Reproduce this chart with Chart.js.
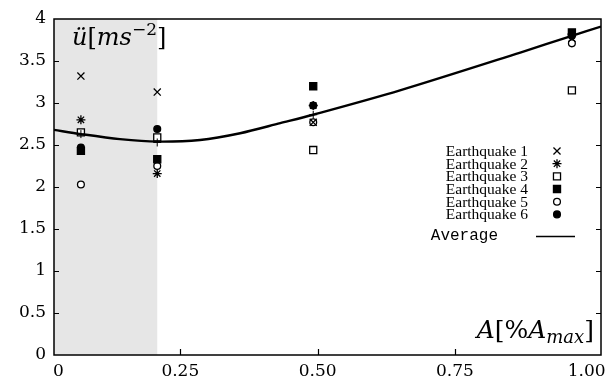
<!DOCTYPE html>
<html>
<head>
<meta charset="utf-8">
<script src="https://cdn.jsdelivr.net/npm/chart.js@4/dist/chart.umd.min.js"></script>
<style>
  body { margin: 0; background: #fff; }
  canvas { display: block; }
</style>
</head>
<body>
<canvas id="chart" width="609" height="379"></canvas>
<script>
// amplitude positions of the four test levels
const ampLevels = [0.069, 0.208, 0.492, 0.963];

// peak acceleration per earthquake, one value per amplitude level
const quake1 = [3.32, 3.13, 2.77, 3.77];
const quake2 = [2.80, 2.16, 2.97, 3.82];
const quake3 = [2.65, 2.59, 2.44, 3.15];
const quake4 = [2.43, 2.33, 3.20, 3.84];
const quake5 = [2.03, 2.25, 2.77, 3.71];
const quake6 = [2.47, 2.69, 2.97, 3.80];
const avgMarks = [2.63, 2.53, 2.86, 3.80];

// average curve
const avgLineX = [0.02, 0.069, 0.14, 0.208, 0.286, 0.359, 0.432, 0.492, 0.65, 0.869, 0.963, 1.016];
const avgLineY = [2.68, 2.63, 2.57, 2.54, 2.56, 2.64, 2.76, 2.86, 3.15, 3.60, 3.80, 3.91];

// axis ticks
const xTickValues = [0.028, 0.25, 0.5, 0.75, 0.99];
const xTickLabels = ['0', '0.25', '0.50', '0.75', '1.00'];
const yTicks = [0, 0.5, 1, 1.5, 2, 2.5, 3, 3.5, 4];

const bandEnd = 0.208; // shaded region ends at second level

const toPoints = (xs, ys) => xs.map((x, i) => ({ x: x, y: ys[i] }));

function quakeSet(label, ys, style, radius, fill) {
  return {
    label: label,
    data: toPoints(ampLevels, ys),
    showLine: false,
    pointStyle: style,
    pointRadius: radius,
    pointBorderWidth: 1.3,
    pointBorderColor: '#000',
    pointBackgroundColor: fill
  };
}

const datasets = [
  {
    label: 'Average',
    data: toPoints(avgLineX, avgLineY),
    showLine: true,
    borderColor: '#000',
    borderWidth: 2.4,
    tension: 0.3,
    pointRadius: 0
  },
  {
    label: 'avgMarks',
    data: toPoints(ampLevels, avgMarks),
    showLine: false,
    pointStyle: 'cross',
    pointRadius: 4,
    pointBorderWidth: 1,
    pointBorderColor: '#000'
  },
  quakeSet('Earthquake 1', quake1, 'crossRot', 5, '#000'),
  quakeSet('Earthquake 2', quake2, 'star', 4.5, '#000'),
  quakeSet('Earthquake 3', quake3, 'rect', 5, '#fff'),
  quakeSet('Earthquake 4', quake4, 'rect', 5, '#000'),
  quakeSet('Earthquake 5', quake5, 'circle', 3.4, '#fff'),
  quakeSet('Earthquake 6', quake6, 'circle', 3.4, '#000')
];

const tickFont = { family: 'DejaVu Serif', size: 17 };

// draws frame, inward ticks, shaded band, axis titles and the legend
const framePlugin = {
  id: 'frame',
  beforeDatasetsDraw(chart) {
    const { ctx, chartArea: a, scales } = chart;
    ctx.save();
    ctx.fillStyle = '#e6e6e6';
    const xe = scales.x.getPixelForValue(bandEnd);
    ctx.fillRect(a.left, a.top, xe - a.left, a.bottom - a.top);
    ctx.restore();
  },
  afterDraw(chart) {
    const { ctx, chartArea: a, scales } = chart;
    ctx.save();
    ctx.strokeStyle = '#000';
    ctx.lineWidth = 1.5;
    ctx.strokeRect(a.left, a.top, a.right - a.left, a.bottom - a.top);

    ctx.lineWidth = 1.2;
    ctx.beginPath();
    [0.25, 0.5, 0.75].forEach(v => {
      const px = Math.round(scales.x.getPixelForValue(v)) + 0.5;
      ctx.moveTo(px, a.bottom);
      ctx.lineTo(px, a.bottom - 6);
    });
    yTicks.slice(1, -1).forEach(v => {
      const py = Math.round(scales.y.getPixelForValue(v)) + 0.5;
      ctx.moveTo(a.left, py);
      ctx.lineTo(a.left + 5, py);
      ctx.moveTo(a.right, py);
      ctx.lineTo(a.right - 5, py);
    });
    ctx.stroke();

    // y title: ü[ms^-2]
    ctx.fillStyle = '#000';
    ctx.textBaseline = 'alphabetic';
    ctx.textAlign = 'left';
    let x = 72;
    const yb = 45;
    const put = (txt, font, dy) => {
      ctx.font = font;
      ctx.fillText(txt, x, yb + (dy || 0));
      x += ctx.measureText(txt).width;
    };
    put('ü', 'italic 24px DejaVu Serif');
    put('[', '24px DejaVu Serif');
    put('ms', 'italic 24px DejaVu Serif');
    put('\u22122', '17px DejaVu Serif', -10);
    put(']', '24px DejaVu Serif');

    // x title: A[%A_max], right aligned
    const parts = [
      ['A', 'italic 25px DejaVu Serif', 0],
      ['[%', '25px DejaVu Serif', 0],
      ['A', 'italic 25px DejaVu Serif', 0],
      ['max', 'italic 18px DejaVu Serif', 5],
      [']', '25px DejaVu Serif', 0]
    ];
    let w = 0;
    parts.forEach(p => { ctx.font = p[1]; w += ctx.measureText(p[0]).width; });
    x = 594 - w;
    const xb = 338;
    parts.forEach(p => {
      ctx.font = p[1];
      ctx.fillText(p[0], x, xb + p[2]);
      x += ctx.measureText(p[0]).width;
    });

    // legend
    const rowY = [151, 163.7, 176.4, 189, 201.7, 214.4];
    const quakes = chart.data.datasets.filter(d => d.label.startsWith('Earthquake'));
    ctx.font = '15.5px "Liberation Serif"';
    ctx.textAlign = 'right';
    ctx.textBaseline = 'middle';
    quakes.forEach((d, i) => {
      ctx.fillStyle = '#000';
      ctx.fillText(d.label, 528, rowY[i] + 1);
      ctx.fillStyle = d.pointBackgroundColor;
      ctx.strokeStyle = '#000';
      ctx.lineWidth = d.pointBorderWidth;
      Chart.helpers.drawPoint(ctx, {
        pointStyle: d.pointStyle, radius: d.pointRadius, borderWidth: d.pointBorderWidth, rotation: 0
      }, 557, rowY[i]);
    });
    ctx.fillStyle = '#000';
    ctx.font = '16px "Liberation Mono"';
    ctx.fillText('Average', 498, 236);
    ctx.lineWidth = 1.5;
    ctx.beginPath();
    ctx.moveTo(536, 236.5);
    ctx.lineTo(575, 236.5);
    ctx.stroke();
    ctx.restore();
  }
};

new Chart(document.getElementById('chart').getContext('2d'), {
  type: 'scatter',
  data: { datasets: datasets },
  options: {
    responsive: false,
    animation: false,
    layout: { padding: { top: 19, right: 8, left: 0, bottom: 0 } },
    plugins: { legend: { display: false }, tooltip: { enabled: false } },
    scales: {
      x: {
        type: 'linear',
        min: 0.02,
        max: 1.016,
        grid: { display: false, drawTicks: false },
        border: { display: false },
        afterBuildTicks: s => { s.ticks = xTickValues.map(v => ({ value: v })); },
        ticks: {
          autoSkip: false,
          maxRotation: 0,
          color: '#000',
          font: tickFont,
          padding: 6,
          callback: (v, i) => xTickLabels[i]
        },
        afterFit: s => { s.height = 24; s.paddingLeft = 0; s.paddingRight = 0; }
      },
      y: {
        min: 0,
        max: 4,
        grid: { display: false, drawTicks: false },
        border: { display: false },
        afterBuildTicks: s => { s.ticks = yTicks.map(v => ({ value: v })); },
        ticks: { color: '#000', font: tickFont, padding: 8, callback: v => String(v) },
        afterFit: s => { s.width = 54; s.paddingTop = 0; s.paddingBottom = 0; }
      }
    }
  },
  plugins: [framePlugin]
});
</script>
</body>
</html>
